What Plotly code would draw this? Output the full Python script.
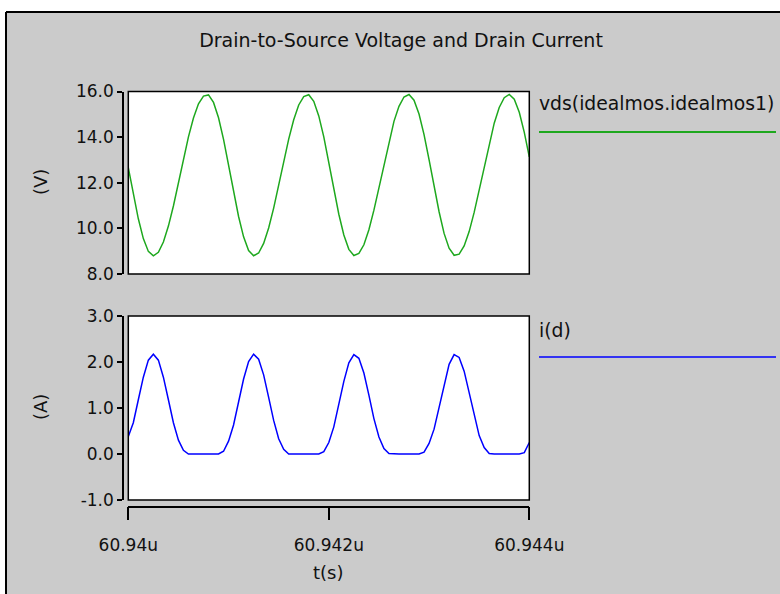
import plotly.graph_objects as go

# ---------------- data ----------------
T0_US = 60.94  # start of the time window in microseconds

# time offsets from 60.94u, in nanoseconds
t_ns = [
    0.00, 0.05, 0.10, 0.15, 0.20, 0.25, 0.30, 0.35, 0.40, 0.45,
    0.50, 0.55, 0.60, 0.65, 0.70, 0.75, 0.80, 0.85, 0.90, 0.95,
    1.00, 1.05, 1.10, 1.15, 1.20, 1.25, 1.30, 1.35, 1.40, 1.45,
    1.50, 1.55, 1.60, 1.65, 1.70, 1.75, 1.80, 1.85, 1.90, 1.95,
    2.00, 2.05, 2.10, 2.15, 2.20, 2.25, 2.30, 2.35, 2.40, 2.45,
    2.50, 2.55, 2.60, 2.65, 2.70, 2.75, 2.80, 2.85, 2.90, 2.95,
    3.00, 3.05, 3.10, 3.15, 3.20, 3.25, 3.30, 3.35, 3.40, 3.45,
    3.50, 3.55, 3.60, 3.65, 3.70, 3.75, 3.80, 3.85, 3.90, 3.95,
    4.00,
]

# drain-to-source voltage (V)
vds = [
    12.66, 11.50, 10.42, 9.55, 8.99, 8.80, 8.95, 9.40, 10.10, 10.98,
    11.99, 13.03, 14.01, 14.84, 15.46, 15.80, 15.85, 15.52, 14.85, 13.90,
    12.78, 11.61, 10.52, 9.63, 9.03, 8.80, 8.92, 9.34, 10.02, 10.89,
    11.89, 12.93, 13.91, 14.76, 15.41, 15.78, 15.86, 15.57, 14.93, 14.01,
    12.89, 11.73, 10.62, 9.71, 9.08, 8.81, 8.90, 9.28, 9.94, 10.80,
    11.78, 12.82, 13.82, 14.69, 15.35, 15.76, 15.87, 15.62, 15.01, 14.11,
    13.01, 11.84, 10.73, 9.78, 9.13, 8.82, 8.87, 9.23, 9.86, 10.70,
    11.68, 12.72, 13.72, 14.61, 15.30, 15.73, 15.87, 15.66, 15.09, 14.21,
    13.13,
]

# drain current (A)
i_d = [
    0.38, 0.68, 1.18, 1.67, 2.04, 2.17, 2.04, 1.67, 1.18, 0.68,
    0.30, 0.08, 0.00, 0.00, 0.00, 0.00, 0.00, 0.00, 0.00, 0.06,
    0.28, 0.63, 1.13, 1.63, 2.01, 2.17, 2.06, 1.72, 1.23, 0.73,
    0.33, 0.10, 0.00, 0.00, 0.00, 0.00, 0.00, 0.00, 0.00, 0.05,
    0.25, 0.59, 1.07, 1.58, 1.98, 2.16, 2.08, 1.76, 1.28, 0.77,
    0.37, 0.12, 0.01, 0.00, 0.00, 0.00, 0.00, 0.00, 0.00, 0.04,
    0.23, 0.54, 1.02, 1.53, 1.95, 2.16, 2.10, 1.80, 1.33, 0.82,
    0.40, 0.14, 0.01, 0.00, 0.00, 0.00, 0.00, 0.00, 0.00, 0.03,
    0.25,
]

x_tick_vals = [60.940, 60.942, 60.944]
x_tick_text = ["60.94u", "60.942u", "60.944u"]
v_ticks = [8, 10, 12, 14, 16]
v_tick_text = ["8.0", "10.0", "12.0", "14.0", "16.0"]
a_ticks = [-1, 0, 1, 2, 3]
a_tick_text = ["-1.0", "0.0", "1.0", "2.0", "3.0"]

title_text = "Drain-to-Source Voltage and Drain Current"
vds_name = "vds(idealmos.idealmos1)"
id_name = "i(d)"
x_title = "t(s)"
v_title = "(V)"
a_title = "(A)"

# ---------------- layout helpers ----------------
W, H = 780, 594
def px(x):
    return x / W
def py(y):
    return 1 - y / H

FONT = "DejaVu Sans"
GREEN = "#1ea81e"
BLUE = "#0000ff"
GRAY = "#cbcbcb"
TXT = "#111111"

t_us = [T0_US + v * 1e-3 for v in t_ns]

fig = go.Figure()
fig.add_trace(go.Scatter(x=t_us, y=vds, mode="lines", name=vds_name,
                         line=dict(color=GREEN, width=1.5),
                         xaxis="x2", yaxis="y2", showlegend=False))
fig.add_trace(go.Scatter(x=t_us, y=i_d, mode="lines", name=id_name,
                         line=dict(color=BLUE, width=1.5),
                         xaxis="x", yaxis="y", showlegend=False))

xdom = [px(128.3), px(529.3)]
tickfont = dict(family=FONT, size=17, color=TXT)

common_y = dict(anchor="free", position=px(123), showline=True, linecolor="black",
                linewidth=1.5, ticks="outside", ticklen=5, tickwidth=1.5,
                tickcolor="black", showgrid=False, zeroline=False,
                tickfont=tickfont, automargin=False)

fig.update_layout(
    template="none",
    width=W, height=H,
    margin=dict(l=0, r=0, t=0, b=0, pad=0, autoexpand=False),
    paper_bgcolor=GRAY, plot_bgcolor="white",
    title=dict(text=title_text, x=px(401), y=py(40), xanchor="center",
               yanchor="middle", xref="paper", yref="paper",
               font=dict(family=FONT, size=19, color=TXT)),
    xaxis=dict(domain=xdom, range=[60.940, 60.944], anchor="free",
               position=py(506.7), showline=True, linecolor="black",
               linewidth=1.5, ticks="outside", ticklen=13, tickwidth=1.5,
               tickcolor="black", tickvals=x_tick_vals, ticktext=x_tick_text,
               showgrid=False, zeroline=False, tickfont=tickfont,
               ticklabelstandoff=10, automargin=False),
    xaxis2=dict(domain=xdom, range=[60.940, 60.944], anchor="y2",
                matches="x", visible=False, automargin=False),
    yaxis=dict(domain=[py(500), py(316)], range=[-1, 3], tickvals=a_ticks,
               ticktext=a_tick_text, **common_y),
    yaxis2=dict(domain=[py(274), py(91.5)], range=[8, 16], tickvals=v_ticks,
                ticktext=v_tick_text, **common_y),
    showlegend=False,
)

shapes = [
    # white page strips outside the gray panel
    dict(type="rect", xref="paper", yref="paper", x0=0, x1=1, y0=py(12), y1=1,
         fillcolor="white", line=dict(width=0)),
    dict(type="rect", xref="paper", yref="paper", x0=0, x1=px(6), y0=0, y1=1,
         fillcolor="white", line=dict(width=0)),
    # panel border
    dict(type="line", xref="paper", yref="paper", x0=px(6), x1=1, y0=py(12), y1=py(12),
         line=dict(color="black", width=2)),
    dict(type="line", xref="paper", yref="paper", x0=px(6), x1=px(6), y0=py(12), y1=0,
         line=dict(color="black", width=2)),
    # plot boxes
    dict(type="rect", xref="x2 domain", yref="y2 domain", x0=0, x1=1, y0=0, y1=1,
         line=dict(color="black", width=1.5), layer="above"),
    dict(type="rect", xref="x domain", yref="y domain", x0=0, x1=1, y0=0, y1=1,
         line=dict(color="black", width=1.5), layer="above"),
    # legend lines
    dict(type="line", xref="paper", yref="paper", x0=px(539), x1=px(776),
         y0=py(132), y1=py(132), line=dict(color=GREEN, width=2)),
    dict(type="line", xref="paper", yref="paper", x0=px(539), x1=px(776),
         y0=py(357), y1=py(357), line=dict(color=BLUE, width=1.5)),
]
fig.update_layout(shapes=shapes)

lab = dict(family=FONT, size=18, color=TXT)
leg = dict(family=FONT, size=18.8, color=TXT)
annotations = [
    dict(text=v_title, x=px(40), y=py(182), textangle=-90, font=lab),
    dict(text=a_title, x=px(40), y=py(407), textangle=-90, font=lab),
    dict(text=x_title, x=px(328), y=py(572), font=lab),
    dict(text=vds_name, x=px(537), y=py(104), xanchor="left", font=leg),
    dict(text=id_name, x=px(537), y=py(330), xanchor="left", font=leg),
]
for a in annotations:
    a.update(xref="paper", yref="paper", showarrow=False)
    a.setdefault("xanchor", "center")
    a.setdefault("yanchor", "middle")
fig.update_layout(annotations=annotations)

fig.write_html("out.html")
